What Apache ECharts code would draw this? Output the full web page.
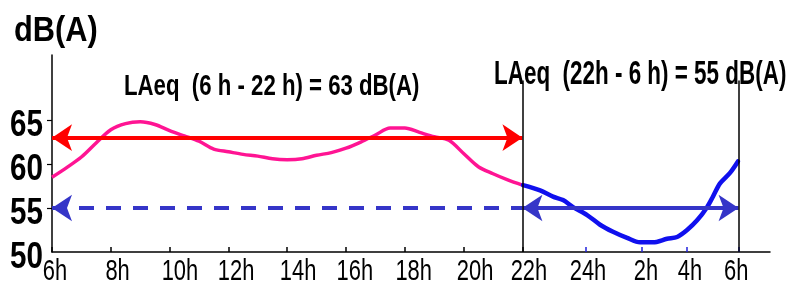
<!DOCTYPE html>
<html>
<head>
<meta charset="utf-8">
<script src="https://cdn.jsdelivr.net/npm/echarts@6/dist/echarts.min.js"></script>
<style>
  html, body { margin: 0; padding: 0; background: #fff; }
  #chart { width: 789px; height: 291px; }
</style>
</head>
<body>
<div id="chart"></div>
<script>
// x positions of the hour ticks (hours after 6h, as drawn)
const tickPos = [0, 2, 4, 6, 8, 10, 12, 14, 16, 18.15, 20.05, 21.6, 23.35];
// where the hour labels sit (they are not quite centred on their ticks)
const labelPos = [0.1, 2.23, 4.35, 6.26, 8.37, 10.3, 12.3, 14.39, 16.22, 18.23, 20.2, 21.7, 23.27];
const tickLabels = ['6h', '8h', '10h', '12h', '14h', '16h', '18h', '20h', '22h', '24h', '2h', '4h', '6h'];
const yLabels = [50, 55, 60, 65];

// day period 6h - 22h
const dayHours = [0, 0.5, 1, 1.5, 2, 2.5, 3, 3.5, 4, 4.5, 5, 5.5, 6, 6.5, 7, 7.5, 8, 8.5,
  9, 9.5, 10, 10.5, 11, 11.5, 12, 12.5, 13, 13.5, 14, 14.5, 15, 15.5, 16];
const dayLevels = [58.5, 59.6, 60.8, 62.4, 63.9, 64.6, 64.8, 64.5, 63.8, 63.2, 62.6, 61.7, 61.4, 61.1,
  60.9, 60.6, 60.5, 60.6, 61.0, 61.3, 61.8, 62.5, 63.3, 64.1, 64.1, 63.6, 63.1, 62.7, 61.2, 59.7,
  58.9, 58.2, 57.6];

// night period 22h - 6h
const nightHours = [16.02, 16.6, 17.04, 17.38, 17.72, 18.2, 18.64, 19.08, 19.56, 20.0, 20.44,
  20.92, 21.26, 21.6, 21.94, 22.28, 22.48, 22.72, 23.06, 23.33];
const nightLevels = [57.6, 57.0, 56.3, 55.9, 55.1, 54.2, 53.1, 52.3, 51.6, 51.1, 51.1, 51.5,
  51.7, 52.5, 53.6, 55.1, 56.3, 57.8, 59.0, 60.3];

const dayMean = 63;
const nightMean = 55;
const dayStart = 0, dayEnd = 16, nightEnd = 23.35;
const boundTop = 69.5;

const sans = '"Liberation Sans", Arial, sans-serif';

const chart = echarts.init(document.getElementById('chart'), null, { renderer: 'canvas' });

const option = {
  animation: false,
  grid: { left: 52, right: 19, top: 55, bottom: 39, containLabel: false },
  xAxis: [{
    type: 'value', min: 0, max: 24.42,
    splitLine: { show: false },
    axisLine: { lineStyle: { color: '#000', width: 1.5 } },
    axisTick: { inside: true, length: 5, lineStyle: { color: '#000', width: 1.5 },
      customValues: tickPos.slice(0, 9) },
    axisLabel: { show: false }
  }, {
    type: 'value', min: 0, max: 24.42, position: 'bottom',
    splitLine: { show: false },
    axisLine: { show: false },
    axisTick: { inside: true, length: 5, lineStyle: { color: '#2222dd', width: 1.5 },
      customValues: tickPos.slice(9) },
    axisLabel: { show: false }
  }],
  yAxis: {
    type: 'value', min: 50, max: 72.4,
    splitLine: { show: false },
    axisLine: { show: true, lineStyle: { color: '#000', width: 1.5 } },
    axisTick: { show: true, length: 5, lineStyle: { color: '#000', width: 1.2 },
      customValues: [55, 60, 65] },
    axisLabel: { show: false }
  },
  series: [
    {
      type: 'line', name: 'jour', silent: true,
      data: dayHours.map((h, i) => [h, dayLevels[i]]),
      showSymbol: false, smooth: 0.3,
      lineStyle: { color: '#ff1493', width: 3.5 },
      markLine: {
        silent: true, animation: false, label: { show: false },
        data: [
          [{ coord: [dayStart, dayMean], symbol: 'arrow' }, { coord: [dayEnd, dayMean], symbol: 'arrow' }],
        ],
        symbolSize: [20, 20],
        lineStyle: { color: '#ff0000', width: 4, type: 'solid' }
      }
    },
    {
      type: 'line', name: 'nuit', silent: true,
      data: nightHours.map((h, i) => [h, nightLevels[i]]),
      showSymbol: false, smooth: 0.3,
      lineStyle: { color: '#1010ee', width: 4.5, cap: 'round' },
      markLine: {
        silent: true, animation: false, label: { show: false },
        symbolSize: [20, 20],
        lineStyle: { color: '#3535c8', width: 4, type: 'solid' },
        data: [
          [{ coord: [dayEnd, nightMean], symbol: 'arrow' }, { coord: [nightEnd, nightMean], symbol: 'arrow' }]
        ]
      }
    },
    {
      type: 'line', name: 'ref', silent: true, data: [],
      markLine: {
        silent: true, animation: false, label: { show: false },
        symbolSize: [20, 20],
        lineStyle: { color: '#3535c8', width: 4, type: [15, 12] },
        data: [
          [{ coord: [dayStart, nightMean], symbol: 'arrow' }, { coord: [dayEnd, nightMean], symbol: 'none' }]
        ]
      }
    },
    {
      type: 'line', name: 'bounds', silent: true, data: [],
      markLine: {
        silent: true, animation: false, label: { show: false }, symbol: 'none',
        lineStyle: { color: '#000', width: 1.5, type: 'solid' },
        data: [
          [{ coord: [dayEnd, 50] }, { coord: [dayEnd, boundTop] }],
          [{ coord: [nightEnd, 50] }, { coord: [nightEnd, boundTop] }]
        ]
      }
    }
  ]
};

chart.setOption(option);

// condensed tick labels and titles, placed through the axes' own scales
const graphics = [
  { type: 'text', x: 14, y: 14, scaleX: 0.88,
    style: { text: 'dB(A)', font: 'bold 35px ' + sans, fill: '#000' } },
  { type: 'text', x: 124, y: 72, scaleX: 0.74,
    style: { text: 'LAeq  (6 h - 22 h) = 63 dB(A)', font: 'bold 30px ' + sans, fill: '#000' } },
  { type: 'text', x: 494, y: 58, scaleX: 0.68,
    style: { text: 'LAeq  (22h - 6 h) = 55 dB(A)', font: 'bold 33px ' + sans, fill: '#000' } }
];
yLabels.forEach(v => {
  const p = chart.convertToPixel({ gridIndex: 0 }, [0, v]);
  graphics.push({ type: 'text', x: p[0] - 9, y: p[1] + 6, scaleX: 0.8,
    style: { text: String(v), font: 'bold 37px ' + sans, fill: '#000', align: 'right', verticalAlign: 'middle' } });
});
tickLabels.forEach((t, i) => {
  const p = chart.convertToPixel({ gridIndex: 0 }, [labelPos[i], 50]);
  graphics.push({ type: 'text', x: p[0], y: p[1] + 20, scaleX: 0.73,
    style: { text: t, font: '30px ' + sans, fill: '#000', align: 'center', verticalAlign: 'middle' } });
});
chart.setOption({ graphic: graphics });
</script>
</body>
</html>
